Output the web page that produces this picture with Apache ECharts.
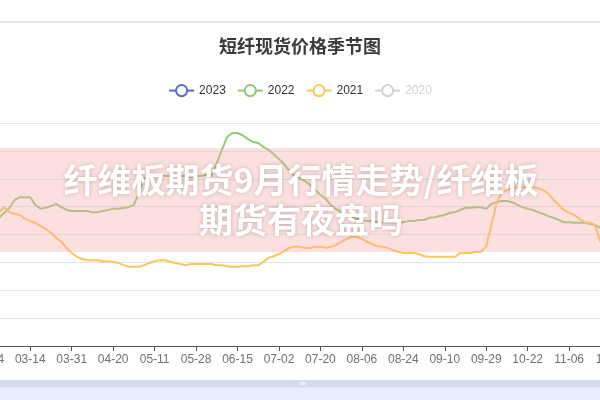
<!DOCTYPE html>
<html>
<head>
<meta charset="utf-8">
<script src="https://cdn.jsdelivr.net/npm/echarts@6/dist/echarts.min.js"></script>
<style>html,body{margin:0;padding:0;background:#fff;}#c{width:600px;height:400px;}</style>
</head>
<body>
<div id="c"></div>
<script>
// Categories (month-day), labels shown every 8th category
var categories = [
 '02-24','02-27','02-28','03-01','03-03','03-06','03-08','03-10',
 '03-14','03-16','03-17','03-20','03-22','03-24','03-27','03-29',
 '03-31','04-03','04-06','04-10','04-12','04-14','04-17','04-18',
 '04-20','04-23','04-25','04-27','05-04','05-05','05-08','05-09',
 '05-11','05-12','05-15','05-17','05-19','05-22','05-24','05-26',
 '05-28','05-30','06-01','06-05','06-07','06-09','06-12','06-13',
 '06-15','06-19','06-21','06-23','06-26','06-27','06-28','06-30',
 '07-02','07-04','07-06','07-10','07-12','07-14','07-17','07-18',
 '07-20','07-21','07-24','07-26','07-28','07-31','08-02','08-04',
 '08-06','08-08','08-10','08-14','08-16','08-18','08-21','08-22',
 '08-24','08-25','08-28','08-30','09-01','09-04','09-06','09-08',
 '09-10','09-12','09-14','09-18','09-20','09-22','09-25','09-27',
 '09-29','10-09','10-11','10-13','10-16','10-17','10-18','10-20',
 '10-22','10-23','10-25','10-27','10-30','10-31','11-01','11-03',
 '11-06','11-08','11-10','11-13','11-15','11-17','11-20','11-22',
 '11-24'
];

var seriesNames = ['2023', '2022', '2021', '2020'];

// 2023 and 2020 lines are not visible in the picture
var values2023 = [];
var values2020 = [];

var values2022 = [
 7150,7220,7300,7390,7480,7620,7670,7670,
 7670,7530,7460,7480,7510,7550,7490,7440,
 7420,7420,7420,7420,7400,7400,7420,7440,
 7460,7460,7480,7490,7530,7760,8010,8050,
 8050,8070,8050,8050,8070,8050,8050,8030,
 8050,8050,8070,8050,8280,8520,8750,8820,
 8820,8780,8710,8660,8640,8570,8520,8440,
 8350,8260,8140,8050,8010,7960,7890,7800,
 7710,7640,7530,7460,7400,7350,7310,7280,
 7260,7240,7240,7220,7220,7220,7220,7220,
 7220,7240,7240,7260,7260,7300,7310,7330,
 7350,7390,7400,7440,7480,7480,7490,7490,
 7460,7550,7580,7600,7600,7580,7530,7490,
 7460,7440,7400,7370,7330,7300,7260,7220,
 7220,7210,7210,7210,7190,7170,7120,7080,
 7060
];

var values2021 = [
 7300,7350,7400,7490,7400,7370,7350,7280,
 7240,7210,7150,7100,7030,6940,6870,6760,
 6670,6600,6560,6540,6540,6540,6520,6520,
 6510,6490,6450,6420,6420,6420,6450,6490,
 6520,6540,6540,6510,6490,6470,6450,6470,
 6470,6470,6470,6470,6450,6450,6430,6420,
 6420,6430,6430,6450,6450,6510,6580,6610,
 6650,6700,6760,6780,6780,6760,6760,6780,
 6780,6760,6780,6810,6870,6920,6960,6960,
 6920,6870,6830,6790,6780,6760,6720,6690,
 6670,6670,6670,6650,6610,6600,6600,6600,
 6600,6600,6600,6670,6670,6670,6690,6690,
 6790,7170,7570,7740,7800,7830,7850,7850,
 7850,7850,7830,7800,7730,7620,7530,7440,
 7390,7350,7280,7220,7210,7170,6880,6810,
 6790
];

var yMin = 5000, yMax = 9000, yStep = 500;

var chart = echarts.init(document.getElementById('c'), null, {renderer: 'canvas'});
var fam = 'Arial, "Liberation Sans", "Noto Sans CJK SC", sans-serif';
var allValues = [values2023, values2022, values2021, values2020];
chart.setOption({
  animation: false,
  backgroundColor: '#fff',
  color: ['#5470c6', '#91cc75', '#fac858', '#ee6666'],
  textStyle: {fontFamily: fam},
  title: {
    text: '短纤现货价格季节图',
    left: 'center', top: 37, padding: 0,
    textStyle: {fontSize: 18, fontWeight: 'bold', color: '#3a3a3a', fontFamily: '"Noto Sans CJK SC", sans-serif'}
  },
  legend: {
    data: seriesNames,
    top: 84, left: 'center', padding: 0, itemGap: 11, itemWidth: 25, itemHeight: 14,
    selected: {'2020': false},
    textStyle: {fontSize: 12, color: '#333', fontFamily: fam}
  },
  grid: {left: -11.2, right: -10.6, top: 123, bottom: 54, containLabel: false, outerBoundsMode: 'none'},
  xAxis: {
    type: 'category', boundaryGap: false, data: categories,
    axisLabel: {interval: 7, color: '#6E7079', fontSize: 12, fontFamily: fam},
    axisTick: {interval: 7}
  },
  yAxis: {
    type: 'value', min: yMin, max: yMax, interval: yStep,
    splitLine: {lineStyle: {color: '#E0E6F1'}}
  },
  dataZoom: [{
    type: 'slider', xAxisIndex: 0, start: 0, end: 100,
    left: -40, right: -40, top: 380, height: 40,
    showDataShadow: false, showDetail: false,
    moveHandleStyle: {color: '#D2DBEE', opacity: 1},
    fillerColor: 'rgba(135,175,274,0.22)'
  }],
  series: seriesNames.map(function (n, i) {
    return {
      name: n, type: 'line', data: allValues[i],
      showSymbol: false, symbol: 'emptyCircle', symbolSize: 4,
      lineStyle: {width: 2}
    };
  }),
  graphic: [
    {type: 'line', shape: {x1: 0, y1: 22, x2: 600, y2: 22}, style: {stroke: '#dcdcdc', lineWidth: 1.5}, z: 50},
    {type: 'rect', shape: {x: 0, y: 148, width: 600, height: 104}, style: {fill: 'rgba(246,168,168,0.36)'}, z: 100},
    {type: 'text', z: 101, style: {
      text: '纤维板期货9月行情走势/纤维板\n期货有夜盘吗',
      x: 301, y: 200, align: 'center', verticalAlign: 'middle',
      textAlign: 'center', textVerticalAlign: 'middle',
      fontSize: 34, fontWeight: 'bold', fontFamily: '"Noto Sans CJK SC", sans-serif',
      lineHeight: 40, fill: '#ffffff',
      textShadowColor: 'rgba(0,0,0,0.22)', textShadowBlur: 4
    }}
  ]
});
</script>
</body>
</html>
